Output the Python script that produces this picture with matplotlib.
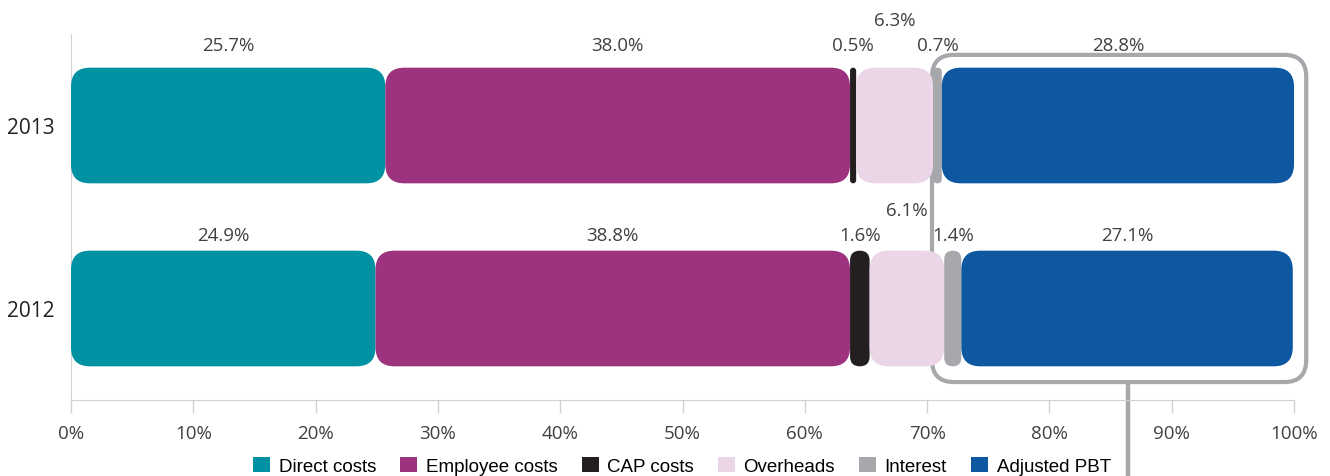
import matplotlib
matplotlib.use("Agg")
import matplotlib.pyplot as plt
from matplotlib.patches import FancyBboxPatch, Patch
import numpy as np

years = ["2013", "2012"]
categories = ["Direct costs", "Employee costs", "CAP costs", "Overheads", "Interest", "Adjusted PBT"]
values_2013 = [25.7, 38.0, 0.5, 6.3, 0.7, 28.8]
values_2012 = [24.9, 38.8, 1.6, 6.1, 1.4, 27.1]
colors = ["#0091a3", "#9d327f", "#231f20", "#ead6e6", "#a7a8ab", "#0e57a1"]
# overheads labels sit one line higher so they don't collide with neighbours
raised = [False, False, False, True, False, False]
ticks = list(range(0, 101, 10))

W, H = 1330, 477
fig = plt.figure(figsize=(W / 100, H / 100), dpi=100)
ax = fig.add_axes([71 / W, 1 - 401 / H, (1294 - 71) / W, (401 - 35) / H])
ax.set_xlim(0, 100)
ax.set_ylim(-0.5, 1.5)

bar_h = 0.632
radius_px = 19
px_x = (1294 - 71) / 100          # pixels per percent
px_y = (401 - 35) / 2.0           # pixels per y unit
aspect = px_x / px_y

label_font = ["Open Sans", "DejaVu Sans"]
rows = [values_2013, values_2012]
ypos = [1, 0]
label_off = [23, 16]   # px above bar top

for vals, y, off in zip(rows, ypos, label_off):
    left = 0.0
    for v, c, up in zip(vals, colors, raised):
        r = min(radius_px / px_x, v / 2)
        box = FancyBboxPatch((left, y - bar_h / 2), v, bar_h,
                             boxstyle="round,pad=0,rounding_size=%f" % r,
                             mutation_aspect=aspect, fc=c, ec="none", zorder=3)
        ax.add_patch(box)
        ty = y + bar_h / 2 + (off + (25 if up else 0)) / px_y
        ax.text(left + v / 2, ty, "%.1f%%" % v, ha="center", va="center",
                fontsize=13.5, color="#404040", family=label_font, clip_on=False)
        left += v

# bracket around the profit segments, with a stem running off the bottom
grey = "#a7a8ab"
bx0, bx1 = 70.4, 101.0
by0, by1 = -0.402, 1.386
bracket = FancyBboxPatch((bx0, by0), bx1 - bx0, by1 - by0,
                         boxstyle="round,pad=0,rounding_size=%f" % (22 / px_x),
                         mutation_aspect=aspect, fc="none", ec=grey, lw=3,
                         zorder=2, clip_on=False)
ax.add_patch(bracket)
ax.plot([86.4, 86.4], [by0, -1.0], color=grey, lw=3.2, zorder=2,
        clip_on=False, solid_capstyle="butt")

ax.set_yticks(ypos)
ax.set_yticklabels(years, fontsize=15, color="#222222", family=label_font)
ax.tick_params(axis="y", length=0, pad=12)
ax.set_xticks(ticks)
ax.set_xticklabels(["%d%%" % t for t in ticks], fontsize=13.5, color="#404040",
                   family=label_font)
ax.tick_params(axis="x", direction="out", length=9, width=1, color="#cfd3d8", pad=8)

for s in ["top", "right"]:
    ax.spines[s].set_visible(False)
ax.spines["left"].set_color("#cfd3d8")
ax.spines["bottom"].set_color("#cfd3d8")

handles = [Patch(fc=c, ec="none") for c in colors]
fig.legend(handles, categories, loc="center", bbox_to_anchor=(682 / W, 1 - 467 / H),
           ncol=6, frameon=False, handlelength=0.9, handleheight=0.9,
           handletextpad=0.45, columnspacing=1.3,
           prop={"family": ["Liberation Sans", "DejaVu Sans"], "size": 13.5})

fig.savefig("out.png", dpi=100)
